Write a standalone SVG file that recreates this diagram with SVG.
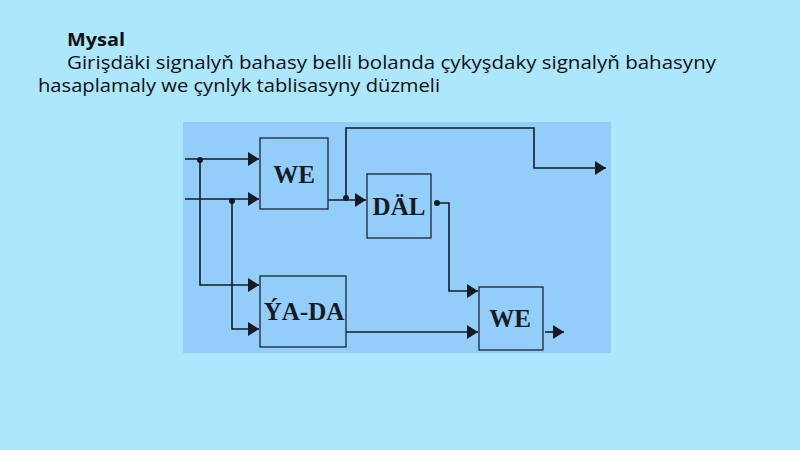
<svg xmlns="http://www.w3.org/2000/svg" width="800" height="450" viewBox="0 0 800 450">
<defs>
<marker id="ah" markerUnits="userSpaceOnUse" markerWidth="12" markerHeight="14" refX="11" refY="7" orient="auto"><path d="M0,0 L11,7 L0,14 Z" fill="#161a22"/></marker>
<style>
.title{font-family:"Open Sans","Noto Sans","Liberation Sans",sans-serif;font-size:18px;fill:#111}
.box{fill:none;stroke:#1c2430;stroke-width:1.3}
.lbl{font-family:"Liberation Serif","DejaVu Serif",serif;font-weight:bold;font-size:25px;fill:#161a22;text-anchor:middle}
.w{fill:none;stroke:#161a22;stroke-width:1.6}
.dot{fill:#161a22}
</style>
</defs>
<rect x="0" y="0" width="800" height="450" fill="#ACE7FD"/>
<text class="title" x="67" y="46" font-weight="bold" textLength="58" lengthAdjust="spacingAndGlyphs">Mysal</text>
<text class="title" x="67" y="69" textLength="649" lengthAdjust="spacingAndGlyphs">Girişdäki signalyň bahasy belli bolanda çykyşdaky signalyň bahasyny</text>
<text class="title" x="38" y="92" textLength="402" lengthAdjust="spacingAndGlyphs">hasaplamaly we çynlyk tablisasyny düzmeli</text>
<rect x="183" y="122" width="428" height="231" fill="#93CEFB"/>
<g id="connectors">
<path class="w" d="M185,159 H259" marker-end="url(#ah)"/>
<path class="w" d="M185,199 H259" marker-end="url(#ah)"/>
<path class="w" d="M200,159 V285 H259" marker-end="url(#ah)"/>
<path class="w" d="M232,200 V329 H259" marker-end="url(#ah)"/>
<path class="w" d="M328,200 H366" marker-end="url(#ah)"/>
<path class="w" d="M346,200 V128 H534 V168 H606" marker-end="url(#ah)"/>
<path class="w" d="M437,203 H449 V291 H478" marker-end="url(#ah)"/>
<path class="w" d="M346,332 H478" marker-end="url(#ah)"/>
<path class="w" d="M545,332 H564" marker-end="url(#ah)"/>
<circle class="dot" cx="200" cy="160" r="3"/>
<circle class="dot" cx="232" cy="201" r="3"/>
<circle class="dot" cx="346" cy="198" r="3"/>
<circle class="dot" cx="437" cy="203" r="3"/>
</g>
<g id="we1"><rect class="box" x="260" y="138" width="68" height="71"/><text class="lbl" x="294" y="183">WE</text></g>
<g id="dal"><rect class="box" x="367" y="174" width="64" height="64"/><text class="lbl" x="399" y="215">DÄL</text></g>
<g id="yada"><rect class="box" x="260" y="276" width="86" height="71"/><text class="lbl" x="304" y="320">ÝA-DA</text></g>
<g id="we2"><rect class="box" x="479" y="287" width="64" height="63"/><text class="lbl" x="510" y="327">WE</text></g>
</svg>
